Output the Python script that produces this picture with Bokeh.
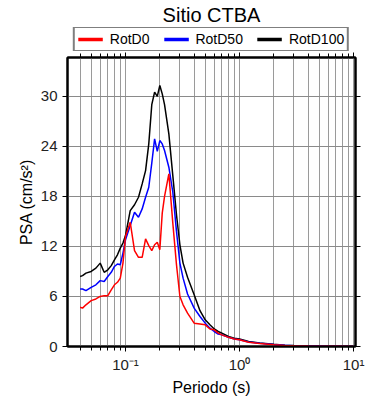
from bokeh.plotting import figure
from bokeh.layouts import column
from bokeh.models import (FixedTicker, LinearAxis, LogAxis, Legend, LegendItem,
                          CustomJSTickFormatter, Range1d)
from bokeh.embed import file_html
from bokeh.resources import INLINE

periods = [0.04, 0.042, 0.045, 0.05, 0.055, 0.06, 0.065, 0.07, 0.075, 0.08, 0.085,
           0.09, 0.095, 0.1, 0.11, 0.12, 0.13, 0.14, 0.15, 0.16, 0.17, 0.18, 0.19,
           0.2, 0.21, 0.22, 0.24, 0.26, 0.28, 0.3, 0.32, 0.35, 0.4, 0.45, 0.5, 0.55,
           0.6, 0.65, 0.7, 0.8, 0.9, 1.0, 1.2, 1.5, 2.0, 2.5, 3.0, 4.0, 5.0, 6.0,
           7.5, 10.0]
rotd100 = [8.4, 8.5, 8.8, 9.0, 9.4, 10.0, 8.9, 9.2, 9.7, 10.4, 11.0,
           11.8, 12.4, 13.3, 16.3, 17.0, 17.9, 19.5, 21.1, 24.3, 29.0, 30.5, 30.0,
           31.3, 30.3, 29.0, 25.5, 20.5, 15.8, 12.2, 10.0, 8.3, 6.2, 4.3, 3.2, 2.6,
           2.1, 1.8, 1.6, 1.2, 1.0, 0.9, 0.6, 0.42, 0.26, 0.16, 0.11, 0.07, 0.05, 0.035,
           0.025, 0.015]
rotd50 = [6.9, 6.9, 6.7, 7.1, 7.4, 7.9, 7.8, 8.4, 8.9, 9.6, 9.9,
          9.8, 11.2, 12.8, 14.5, 16.1, 15.5, 16.5, 17.9, 19.1, 22.0, 24.9, 23.4,
          24.7, 24.3, 23.5, 21.5, 18.5, 13.8, 10.0, 8.2, 6.3, 4.6, 3.6, 2.8, 2.2,
          1.8, 1.5, 1.4, 1.1, 0.9, 0.8, 0.55, 0.38, 0.23, 0.14, 0.1, 0.06, 0.045, 0.03,
          0.022, 0.013]
rotd0 = [4.7, 4.6, 5.0, 5.5, 5.7, 6.0, 6.1, 6.1, 6.8, 7.4, 7.7,
         8.2, 10.0, 13.2, 14.9, 11.5, 10.7, 10.7, 12.9, 12.1, 11.5, 12.2, 12.5,
         11.6, 16.0, 18.0, 20.7, 14.8, 9.8, 6.0, 5.0, 4.0, 2.8, 2.7, 2.6, 2.1,
         2.0, 1.6, 1.4, 1.1, 0.9, 0.8, 0.5, 0.35, 0.2, 0.12, 0.08, 0.05, 0.035, 0.025,
         0.018, 0.01]
series_names = ["RotD0", "RotD50", "RotD100"]
series_colors = ["red", "blue", "black"]
y_ticks = [0, 6, 12, 18, 24, 30]
x_major = [0.1, 1, 10]
x_minor = [0.03, 0.04, 0.05, 0.06, 0.07, 0.08, 0.09,
           0.2, 0.3, 0.4, 0.5, 0.6, 0.7, 0.8, 0.9,
           2, 3, 4, 5, 6, 7, 8, 9]
series = [rotd0, rotd50, rotd100]

FONT = "Liberation Sans"

# ---------- header figure: title + legend ----------
head = figure(width=390, height=51, x_axis_type="log",
              x_range=Range1d(0.031, 10.4), y_range=Range1d(100, 101),
              output_backend="svg", toolbar_location=None,
              title="Sitio CTBA",
              x_axis_location=None, y_axis_location=None,
              min_border_left=67, min_border_right=35, min_border_top=25,
              min_border_bottom=0)
head.outline_line_color = None
head.xgrid.visible = False
head.ygrid.visible = False
head.title.text_font = FONT
head.title.text_font_size = "20px"
head.title.text_font_style = "normal"
head.title.align = "center"
head.title.text_color = "black"
head.title.standoff = 3

proxies = []
for name, col, vals in zip(series_names, series_colors, series):
    proxies.append(head.line(periods, vals, line_color=col, line_width=3.5))

legend = Legend(items=[LegendItem(label=n, renderers=[r]) for n, r in zip(series_names, proxies)],
                orientation="horizontal", location="center",
                label_text_font=FONT, label_text_font_size="14px",
                label_text_color="black",
                border_line_color="black", border_line_width=2,
                background_fill_color="white", background_fill_alpha=1,
                glyph_width=25, glyph_height=8, label_height=8,
                label_standoff=7, spacing=14, padding=3, margin=0)
head.add_layout(legend, "center")

# ---------- main figure ----------
p = figure(width=390, height=349, x_axis_type="log",
           x_range=Range1d(0.031, 10.4), y_range=Range1d(0, 34.66),
           output_backend="svg", toolbar_location=None,
           min_border_left=67, min_border_right=35, min_border_top=6,
           min_border_bottom=54)

p.outline_line_color = "black"
p.outline_line_width = 2

xt = FixedTicker(ticks=x_major, minor_ticks=x_minor)
yt = FixedTicker(ticks=y_ticks, minor_ticks=[])
fmt = CustomJSTickFormatter(code="""
const e = Math.round(Math.log10(tick));
if (e == -1) { return '10\\u207b\\u00b9'; }
if (e == 0) { return '10\\u2070'; }
if (e == 1) { return '10\\u00b9'; }
return '';
""")

xa = p.xaxis[0]
xa.ticker = xt
xa.formatter = fmt
ya = p.yaxis[0]
ya.ticker = yt

for ax in (xa, ya):
    ax.axis_line_color = "black"
    ax.axis_line_width = 2
    ax.major_tick_in = 0
    ax.major_tick_out = 5
    ax.minor_tick_in = 0
    ax.minor_tick_out = 4
    ax.major_tick_line_color = "black"
    ax.minor_tick_line_color = "black"
    ax.major_label_text_font = FONT
    ax.major_label_text_font_size = "15px"
    ax.major_label_text_color = "#222222"
    ax.axis_label_text_font = FONT
    ax.axis_label_text_font_size = "16px"
    ax.axis_label_text_font_style = "normal"
    ax.axis_label_text_color = "black"

xa.axis_label = "Periodo (s)"
ya.axis_label = "PSA (cm/s\u00b2)"
xa.major_label_standoff = 4
xa.axis_label_standoff = 3
ya.major_label_standoff = 5
ya.axis_label_standoff = 3

top = LogAxis(ticker=FixedTicker(ticks=x_major, minor_ticks=x_minor),
              major_label_text_font_size="1px", major_label_text_alpha=0,
              axis_line_width=2, major_label_standoff=0,
              major_tick_in=0, major_tick_out=5, minor_tick_in=0, minor_tick_out=4)
right = LinearAxis(ticker=FixedTicker(ticks=y_ticks, minor_ticks=[]),
                   major_label_text_font_size="1px", major_label_text_alpha=0,
                   axis_line_width=2, major_label_standoff=0,
                   major_tick_in=0, major_tick_out=5)
p.add_layout(top, "above")
p.add_layout(right, "right")

p.xgrid.ticker = xt
p.xgrid.grid_line_color = "#9a9a9a"
p.xgrid.minor_grid_line_color = "#9a9a9a"
p.ygrid.ticker = yt
p.ygrid.grid_line_color = "#8a8a8a"

for name, col, vals in reversed(list(zip(series_names, series_colors, series))):
    p.line(periods, vals, line_color=col, line_width=1.5)

layout = column(head, p, spacing=0)
open("out.html", "w").write(file_html(layout, INLINE))
